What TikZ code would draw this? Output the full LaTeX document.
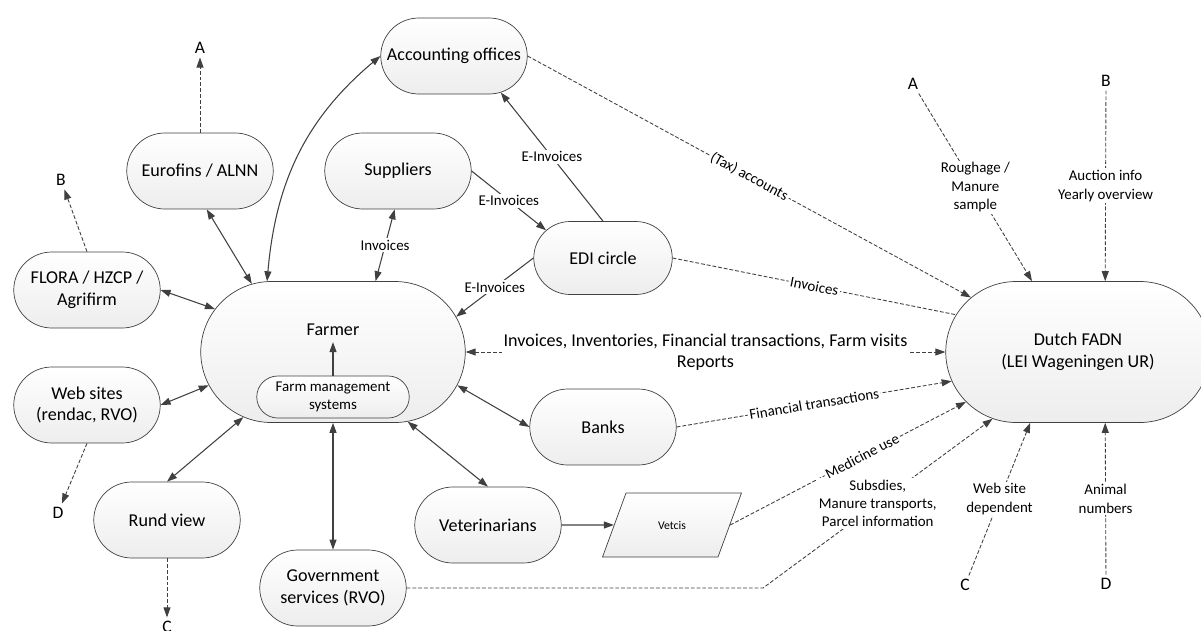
\documentclass[tikz,border=0pt]{standalone}
\usepackage{fontspec}
\setmainfont{Carlito}
\usepackage{tikz}
\usetikzlibrary{arrows.meta,shapes.misc,shapes.geometric}
\definecolor{linegray}{HTML}{404040}

\begin{document}
\begin{tikzpicture}[>={Triangle[length=2mm,width=1.4mm]},
                    actor/.style={rounded rectangle, draw=linegray, top color=white, bottom color=black!7,
                                  minimum width=3cm, minimum height=1.52cm, inner sep=1pt, align=center,
                                  font=\fontsize{10.3}{12.4}\selectfont},
                    hub/.style={actor, minimum width=5.36cm, minimum height=2.82cm},
                    flow/.style={draw=linegray, line width=0.6pt},
                    feed/.style={flow, line width=0.5pt, dash pattern=on 2.2pt off 1.1pt},
                    tag/.style={fill=white, inner sep=1pt, align=center, font=\fontsize{8.5}{10.5}\selectfont},
                    letter/.style={inner sep=2pt, font=\fontsize{10}{12}\selectfont}]
  \useasboundingbox (0,0) rectangle (24.02,12.6);

  \node[actor] (acc) at (9.08,11.48) {Accounting offices};
  \node[actor] (euro) at (4.00,9.18) {Eurofins / ALNN};
  \node[actor] (supp) at (7.96,9.18) {Suppliers};
  \node[actor, minimum width=2.84cm, minimum height=1.46cm] (edi) at (12.06,7.44) {EDI circle};
  \node[actor] (flora) at (1.74,6.80) {FLORA / HZCP /\\Agrifirm};
  \node[hub] (farmer) at (6.66,5.56) {};
  \node[font=\fontsize{10.3}{12.4}\selectfont] (farmerlbl) at (6.66,6.0) {Farmer};
  \node[actor, minimum width=3.12cm, minimum height=0.84cm, font=\fontsize{8.5}{10}\selectfont] (fms) at (6.66,4.66) {Farm management\\systems};
  \node[actor] (web) at (1.74,4.50) {Web sites\\(rendac, RVO)};
  \node[actor] (rund) at (3.34,2.20) {Rund view};
  \node[actor] (gov) at (6.66,0.84) {Government\\services (RVO)};
  \node[actor] (banks) at (12.06,4.06) {Banks};
  \node[actor] (vet) at (9.76,2.10) {Veterinarians};
  \node[trapezium, trapezium left angle=63, trapezium right angle=117, trapezium stretches,
        draw=linegray, top color=white, bottom color=black!7, minimum width=2.78cm, minimum height=1.28cm,
        font=\fontsize{6.7}{8}\selectfont] (vetcis) at (13.44,2.10) {Vetcis};
  \node[hub] (fadn) at (21.56,5.56) {Dutch FADN\\(LEI Wageningen UR)};

  \node[letter] (la) at (4.00,11.64) {A};
  \node[letter] (lb) at (1.22,9.00) {B};
  \node[letter] (ld) at (1.16,2.34) {D};
  \node[letter] (lc) at (3.34,0.06) {C};
  \node[letter] (ra) at (18.26,10.92) {A};
  \node[letter] (rb) at (22.12,10.98) {B};
  \node[letter] (rc) at (19.30,0.90) {C};
  \node[letter] (rd) at (22.12,0.92) {D};

  \draw[flow,<->] (euro.280) -- (farmer.140);
  \draw[flow,<->] (flora.east) -- (farmer.160);
  \draw[flow,<->] (web.east) -- (farmer.195);
  \draw[flow,<->] (rund.north) -- (farmer.216);
  \draw[flow,<->] (gov.north) -- (farmer.south);
  \draw[flow,<->] (farmer.317) -- (vet.north);
  \draw[flow,<->] (farmer.345) -- (banks.west);
  \draw[flow,<->] (farmer.59) -- node[tag] {Invoices} (supp.265);
  \draw[flow,<->] (farmer.133) to[out=85,in=220] (acc.west);
  \draw[flow,->] (supp.east) -- node[tag] {E-Invoices} (edi.154);
  \draw[flow,->] (edi.north) -- node[tag] {E-Invoices} (acc.322);
  \draw[flow,->] (edi.west) -- node[tag] {E-Invoices} (farmer.16);
  \draw[flow,->] (fms.north) -- (farmerlbl.south);
  \draw[flow,->] (vet.east) -- (vetcis.west);

  \draw[feed,<->] (farmer.east) -- node[tag, font=\fontsize{10.3}{12}\selectfont] {Invoices, Inventories, Financial transactions, Farm visits\\Reports} (fadn.west);
  \draw[feed,->] (acc.east) -- node[tag, sloped] {(Tax) accounts} (fadn.153);
  \draw[feed] (edi.east) -- node[tag, sloped] {Invoices} (fadn.163);
  \draw[feed,->] (banks.east) -- node[tag, sloped] {Financial transactions} (fadn.193);
  \draw[feed,->] (vetcis.east) -- node[tag, sloped, pos=0.56] {Medicine use} (fadn.204);
  \coordinate (govbend) at (15.26,0.84);
  \draw[feed,->] (gov.east) -- (govbend) -- node[tag] {Subsdies,\\Manure transports,\\Parcel information} (fadn.218);

  \draw[feed,->] (euro.north) -- (la);
  \draw[feed,->] (flora.north) -- (lb);
  \draw[feed,->] (web.south) -- (ld);
  \draw[feed,->] (rund.south) -- (lc);
  \draw[feed,->] (ra) -- node[tag] {Roughage /\\Manure\\sample} (fadn.123);
  \draw[feed,->] (rb) -- node[tag] {Auction info\\Yearly overview} (fadn.69);
  \draw[feed,->] (rc) -- node[tag] {Web site\\dependent} (fadn.236);
  \draw[feed,->] (rd) -- node[tag] {Animal\\numbers} (fadn.291);
\end{tikzpicture}
\end{document}
